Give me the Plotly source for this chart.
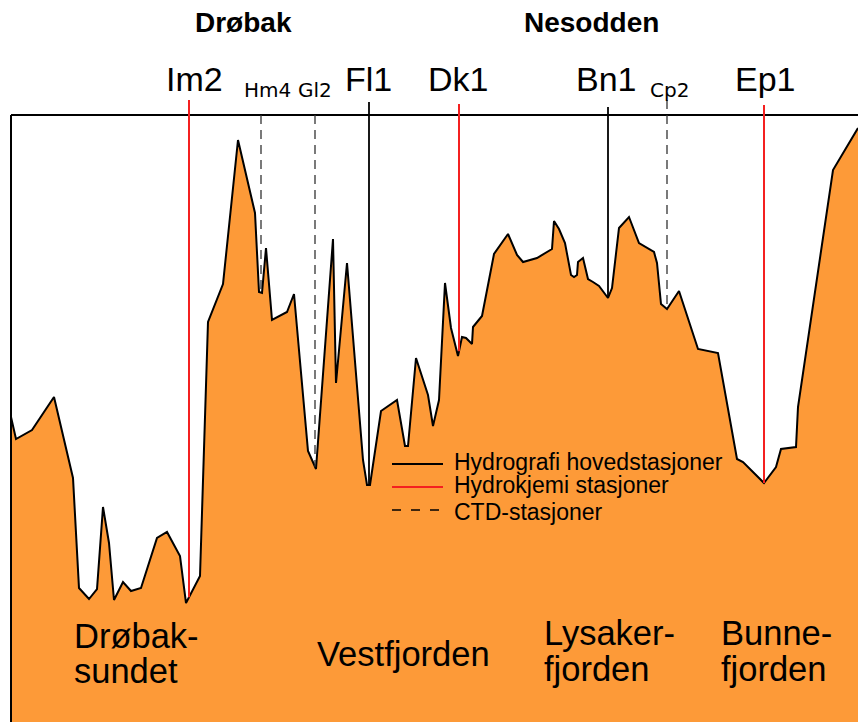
import numpy as np
import plotly.graph_objects as go

# ---------------- data ----------------
# seabed profile along the fjord (distance units, depth units below surface)
dist = [0, 5, 21, 43, 62, 68, 78, 86, 92, 98, 103, 112, 120, 130, 146, 156, 169, 175, 189,
        197, 212, 227, 244, 248, 251, 255, 261, 276, 283, 297, 305, 322, 325, 336, 352, 356,
        359, 370, 386, 394, 397, 405, 417, 422, 428, 434, 440, 447, 451, 455, 461, 462, 471,
        483, 497, 506, 512, 526, 541, 543, 548, 554, 560, 563, 566, 567, 572, 577, 582, 588,
        597, 601, 608, 618, 628, 643, 646, 650, 656, 668, 687, 707, 726, 732, 753, 765, 770,
        785, 787, 822, 847]
depth = [302, 324, 315, 282, 363, 473, 484, 474, 392, 428, 485, 467, 476, 473, 423, 417, 441,
         488, 461, 207, 169, 25, 98, 177, 178, 133, 205, 197, 179, 336, 354, 124, 268, 148, 345,
         370, 370, 296, 285, 331, 331, 243, 280, 311, 285, 168, 213, 241, 222, 223, 229, 212,
         201, 139, 119, 140, 147, 143, 134, 106, 114, 128, 160, 162, 160, 147, 143, 164, 167,
         171, 183, 173, 113, 102, 128, 137, 148, 189, 194, 176, 234, 238, 344, 347, 368, 352,
         334, 332, 292, 55, 13]

stations = ["Im2", "Hm4", "Gl2", "Fl1", "Dk1", "Bn1", "Cp2", "Ep1"]
station_dist = [178, 250, 304, 358, 448, 597, 656, 753]
station_type = ["chem", "ctd", "ctd", "hydro", "chem", "hydro", "ctd", "chem"]

places = ["Drøbak", "Nesodden"]
regions = [["Drøbak-", "sundet"], ["Vestfjorden"], ["Lysaker-", "fjorden"], ["Bunne-", "fjorden"]]

legend_labels = ["Hydrografi hovedstasjoner", "Hydrokjemi stasjoner", "CTD-stasjoner"]
legend_types = ["hydro", "chem", "ctd"]

# ---------------- styles / layout helpers ----------------
W, H = 858, 722
ML, MT = 10, 98
PW, PH = W - ML, H - MT
FONT = "Liberation Sans, Arial, sans-serif"
ORANGE = "#fd9a38"
RED = "#f42020"

line_style = {
    "hydro": dict(color="black", width=1.8),
    "chem": dict(color=RED, width=2),
    "ctd": dict(color="#333333", width=1.3, dash="9px,6px"),
}
top_px = {"Im2": 100, "Hm4": 115, "Gl2": 115, "Fl1": 102, "Dk1": 104, "Bn1": 107, "Cp2": 100, "Ep1": 105}
label_px = {"Im2": (194, 79, 34), "Hm4": (267, 90, 20), "Gl2": (315, 90, 20), "Fl1": (368, 79, 34),
            "Dk1": (458, 79, 34), "Bn1": (606, 79, 34), "Cp2": (669, 90, 20), "Ep1": (765, 79, 34)}


def px(x):
    return (x - ML) / PW


def py(y):
    return 1 - (y - MT) / PH


fig = go.Figure()
fig.add_trace(go.Scatter(x=[dist[0], dist[-1]], y=[700, 700], mode="lines",
                         line=dict(width=0, color="rgba(0,0,0,0)"), hoverinfo="skip", showlegend=False))
fig.add_trace(go.Scatter(x=dist, y=depth, mode="lines", fill="tonexty", fillcolor=ORANGE,
                         line=dict(color="black", width=2), hoverinfo="skip", showlegend=False))

shapes = []
# frame
shapes.append(dict(type="line", xref="x", yref="y", x0=0, x1=847, y0=0, y1=0,
                   line=dict(color="black", width=2)))
shapes.append(dict(type="line", xref="x", yref="y", x0=0, x1=0, y0=0, y1=607,
                   line=dict(color="black", width=2)))

bottoms = np.interp(station_dist, dist, depth)
annotations = []
for name, d, t, b in zip(stations, station_dist, station_type, bottoms):
    shapes.append(dict(type="line", xref="x", yref="y", x0=d, x1=d, y0=top_px[name] - 115, y1=b,
                       line=line_style[t]))
    lx, ly, fs = label_px[name]
    fam = FONT if fs > 25 else "DejaVu Sans, Verdana, sans-serif"
    annotations.append(dict(text=name, xref="paper", yref="paper", x=px(lx), y=py(ly),
                            xanchor="center", yanchor="middle", showarrow=False,
                            font=dict(family=fam, size=fs, color="black")))

# place names (bold)
for name, (x, y) in zip(places, [(243, 23), (591, 23)]):
    annotations.append(dict(text="<b>" + name + "</b>", xref="paper", yref="paper", x=px(x), y=py(y),
                            xanchor="center", yanchor="middle", showarrow=False,
                            font=dict(family=FONT, size=28, color="black")))

# region names
region_pos = [(72, [636, 671]), (315, [654]), (542, [633, 669]), (719, [633, 669])]
for lines, (x, ys) in zip(regions, region_pos):
    for txt, y in zip(lines, ys):
        annotations.append(dict(text=txt, xref="paper", yref="paper", x=px(x), y=py(y),
                                xanchor="left", yanchor="middle", showarrow=False,
                                font=dict(family=FONT, size=34.5, color="black")))

# legend (drawn manually)
for lab, t, ly, ty in zip(legend_labels, legend_types, [464, 487, 510], [462, 485, 512]):
    st = dict(line_style[t])
    if t == "ctd":
        st = dict(color="black", width=1.3, dash="9px,10px")
    else:
        st["width"] = 1.8
    shapes.append(dict(type="line", xref="paper", yref="paper", x0=px(392), x1=px(443),
                       y0=py(ly), y1=py(ly), line=st))
    annotations.append(dict(text=lab, xref="paper", yref="paper", x=px(452), y=py(ty),
                            xanchor="left", yanchor="middle", showarrow=False,
                            font=dict(family=FONT, size=23, color="black")))

fig.update_layout(
    width=W, height=H,
    margin=dict(l=ML, r=0, t=MT, b=0, pad=0),
    paper_bgcolor="white", plot_bgcolor="white",
    xaxis=dict(range=[-1, 847], visible=False, fixedrange=True),
    yaxis=dict(range=[607, -17], visible=False, fixedrange=True),
    shapes=shapes, annotations=annotations, showlegend=False,
)

fig.write_html("out.html", config={"displayModeBar": False},
               post_script="document.body.style.margin='0';document.body.style.overflow='hidden';")
